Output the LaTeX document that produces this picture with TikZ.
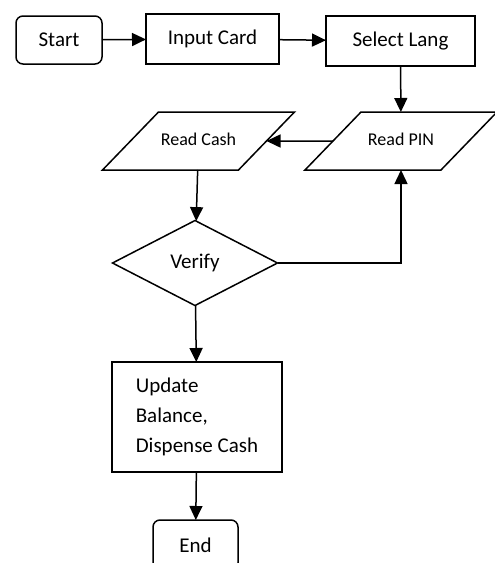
\documentclass[tikz,border=0pt]{standalone}
\usepackage{fontspec}
\setmainfont{Carlito}
\usepackage{xcolor}
\usepackage{tikz}
\usetikzlibrary{arrows.meta,shapes.geometric}
\definecolor{ink}{HTML}{000000}
\definecolor{paper}{HTML}{FFFFFF}
\tikzset{
  flowLine/.style={draw=ink, line width=1.5pt},
  flowArrow/.style={flowLine, -{Triangle[length=14pt,width=13pt]}},
  flowBox/.style={flowLine, rectangle, inner sep=0pt, outer sep=0pt, font=\fontsize{21}{30}\selectfont},
  flowTerm/.style={flowBox, rounded corners=7pt},
  flowData/.style={flowLine, trapezium, trapezium left angle=46, trapezium right angle=134,
    trapezium stretches body, minimum width=192pt, text height=12pt, text depth=4pt,
    inner xsep=0pt, inner ysep=21pt, outer sep=0pt, font=\fontsize{18}{22}\selectfont},
  flowDecision/.style={flowLine, diamond, aspect=1.94, minimum width=165pt, minimum height=85pt,
    inner sep=0pt, outer sep=0pt, font=\fontsize{21}{30}\selectfont}
}

\begin{document}
\begin{tikzpicture}[x=1pt,y=-1pt]
  \useasboundingbox[fill=paper] (0,0) rectangle (495,563);
  \clip (0,0) rectangle (495,563);

  \node[flowTerm, minimum width=86pt, minimum height=48pt] (start) at (59,40) {Start};
  \node[flowBox, minimum width=133pt, minimum height=50pt] (card) at (212.5,39) {Input Card};
  \node[flowBox, minimum width=149pt, minimum height=50pt] (lang) at (400.5,41) {Select Lang};

  \node[flowData] (pin) at (401,141) {Read PIN};
  \node[flowData] (cash) at (198.5,141) {Read Cash};

  \node[flowDecision] (verify) at (195,263) {Verify};

  \node[flowBox, minimum width=170pt, minimum height=110pt, align=left] (update) at (197,417)
    {Update\\Balance,\\Dispense Cash};

  \node[flowTerm, minimum width=85pt, minimum height=50pt] (end) at (195.5,545) {End};

  \draw[flowArrow] (start) -- (card);
  \draw[flowArrow] (card) -- (lang);
  \draw[flowArrow] (lang) -- (pin);
  \draw[flowArrow] (pin) -- (cash);
  \draw[flowArrow] (cash) -- (verify);
  \draw[flowArrow] (verify.east) -| (pin.south);
  \draw[flowArrow] (verify) -- (update);
  \draw[flowArrow] (update) -- (end);
\end{tikzpicture}
\end{document}
